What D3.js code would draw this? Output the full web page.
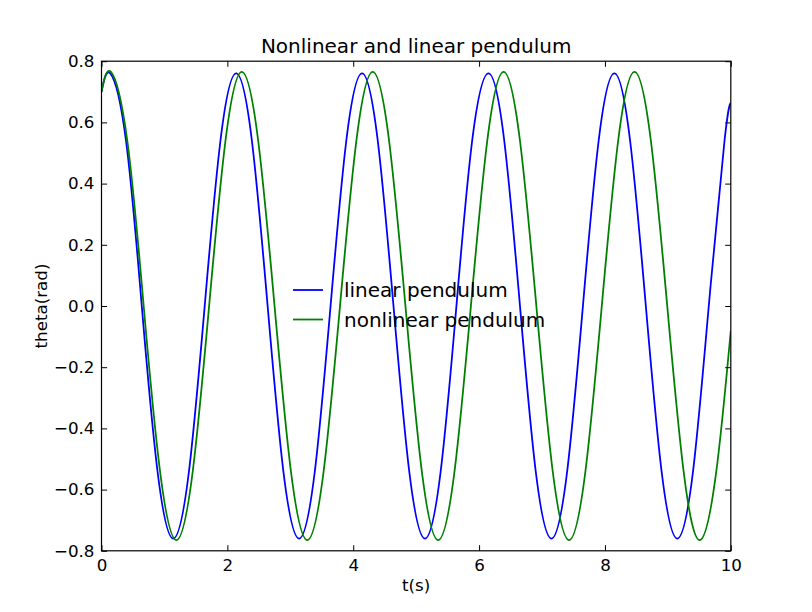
<!DOCTYPE html>
<html>
<head>
<meta charset="utf-8">
<script src="https://cdn.jsdelivr.net/npm/d3@7"></script>
<style>
  body { margin: 0; background: #fff; }
  svg { font-family: "DejaVu Sans", sans-serif; }
</style>
</head>
<body>
<div id="chart"></div>
<script>
// values (t in seconds, theta in rad)
const linearT = [0, 0.14, 0.39, 0.64, 0.89, 1.14, 1.39, 1.64, 1.89, 2.14, 2.39, 2.64, 2.89, 3.14, 3.39, 3.64, 3.89,
    4.14, 4.39, 4.64, 4.89, 5.14, 5.39, 5.64, 5.89, 6.15, 6.40, 6.65, 6.90, 7.15, 7.40, 7.65, 7.90,
    8.15, 8.40, 8.65, 8.90, 9.15, 9.40, 9.65, 9.90, 10];
const linearTheta = [0.70, 0.76, 0.54, 0, -0.54, -0.76, -0.54, 0, 0.54, 0.76, 0.54, 0, -0.54, -0.76, -0.54, 0, 0.54,
    0.76, 0.54, 0, -0.54, -0.76, -0.54, 0, 0.54, 0.76, 0.54, 0, -0.54, -0.76, -0.54, 0, 0.54,
    0.76, 0.54, 0, -0.54, -0.76, -0.54, 0, 0.54, 0.665];

const nonlinearT = [0, 0.15, 0.41, 0.67, 0.93, 1.19, 1.45, 1.71, 1.97, 2.23, 2.49, 2.75, 3.01, 3.27, 3.53, 3.79, 4.05,
    4.31, 4.57, 4.83, 5.09, 5.35, 5.61, 5.87, 6.13, 6.39, 6.65, 6.91, 7.17, 7.43, 7.69, 7.95, 8.21,
    8.47, 8.73, 8.99, 9.25, 9.51, 9.77, 10];
const nonlinearTheta = [0.70, 0.765, 0.54, 0, -0.54, -0.765, -0.54, 0, 0.54, 0.765, 0.54, 0, -0.54, -0.765, -0.54, 0, 0.54,
    0.765, 0.54, 0, -0.54, -0.765, -0.54, 0, 0.54, 0.765, 0.54, 0, -0.54, -0.765, -0.54, 0, 0.54,
    0.765, 0.54, 0, -0.54, -0.765, -0.54, -0.08];

const xTicks = [0, 2, 4, 6, 8, 10];
const yTicks = [-0.8, -0.6, -0.4, -0.2, 0.0, 0.2, 0.4, 0.6, 0.8];

const seriesNames = ["linear pendulum", "nonlinear pendulum"];
const seriesColors = ["#0000ff", "#008000"];

// figure layout (matplotlib default subplot box)
const width = 812, height = 612;
const axLeft = 101.5, axRight = 730.8, axTop = 61.2, axBottom = 550.8;

const svg = d3.select("#chart")
    .append("svg")
    .attr("width", width)
    .attr("height", height);

const x = d3.scaleLinear().domain([0, 10]).range([axLeft, axRight]);
const y = d3.scaleLinear().domain([-0.8, 0.8]).range([axBottom, axTop]);

const fmtY = d => d3.format(".1f")(d).replace("-", "\u2212");

// clip curves to the axes box
svg.append("clipPath").attr("id", "clip")
    .append("rect")
    .attr("x", axLeft).attr("y", axTop)
    .attr("width", axRight - axLeft).attr("height", axBottom - axTop);

const line = d3.line()
    .x(d => x(d[0]))
    .y(d => y(d[1]))
    .curve(d3.curveNatural);

const series = [
    d3.zip(linearT, linearTheta),
    d3.zip(nonlinearT, nonlinearTheta)
];

svg.append("g")
    .attr("clip-path", "url(#clip)")
    .selectAll("path")
    .data(series)
    .join("path")
    .attr("d", line)
    .attr("fill", "none")
    .attr("stroke", (d, i) => seriesColors[i])
    .attr("stroke-width", 1.8);

// axes: ticks point inward, on all four sides
const tickLen = 5.6;
svg.append("g")
    .attr("transform", `translate(0,${axBottom})`)
    .call(d3.axisBottom(x).tickValues(xTicks).tickSize(-tickLen).tickPadding(8).tickFormat(d3.format("d")))
    .call(g => g.select(".domain").remove());
svg.append("g")
    .attr("transform", `translate(0,${axTop})`)
    .call(d3.axisTop(x).tickValues(xTicks).tickSize(-tickLen).tickFormat(""))
    .call(g => g.select(".domain").remove());
svg.append("g")
    .attr("transform", `translate(${axLeft},0)`)
    .call(d3.axisLeft(y).tickValues(yTicks).tickSize(-tickLen).tickPadding(7).tickFormat(fmtY))
    .call(g => g.select(".domain").remove());
svg.append("g")
    .attr("transform", `translate(${axRight},0)`)
    .call(d3.axisRight(y).tickValues(yTicks).tickSize(-tickLen).tickFormat(""))
    .call(g => g.select(".domain").remove());

svg.selectAll(".tick line").attr("stroke", "#000").attr("stroke-width", 1);
svg.selectAll(".tick text")
    .attr("fill", "#000")
    .style("font-size", "16.7px")
    .style("font-family", "DejaVu Sans");

// frame
svg.append("rect")
    .attr("x", axLeft).attr("y", axTop)
    .attr("width", axRight - axLeft).attr("height", axBottom - axTop)
    .attr("fill", "none")
    .attr("stroke", "#000")
    .attr("stroke-width", 1.2);

// title and labels
svg.append("text")
    .attr("x", (axLeft + axRight) / 2).attr("y", 53)
    .attr("text-anchor", "middle")
    .style("font-size", "20px")
    .text("Nonlinear and linear pendulum");

svg.append("text")
    .attr("x", (axLeft + axRight) / 2).attr("y", 591)
    .attr("text-anchor", "middle")
    .style("font-size", "16.7px")
    .text("t(s)");

svg.append("text")
    .attr("transform", `translate(47,${(axTop + axBottom) / 2}) rotate(-90)`)
    .attr("text-anchor", "middle")
    .style("font-size", "16.7px")
    .text("theta(rad)");

// legend without frame
const legend = svg.append("g");
const legendY = d3.scaleOrdinal().domain(seriesNames).range([290, 319.5]);
legend.selectAll("line")
    .data(seriesNames)
    .join("line")
    .attr("x1", 293).attr("x2", 323)
    .attr("y1", d => legendY(d)).attr("y2", d => legendY(d))
    .attr("stroke", (d, i) => seriesColors[i])
    .attr("stroke-width", 1.8);
legend.selectAll("text")
    .data(seriesNames)
    .join("text")
    .attr("x", 344)
    .attr("y", d => legendY(d) + 7)
    .style("font-size", "20px")
    .text(d => d);
</script>
</body>
</html>
